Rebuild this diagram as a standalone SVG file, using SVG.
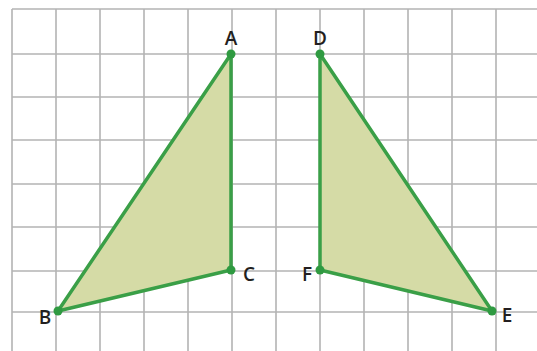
<svg xmlns="http://www.w3.org/2000/svg" width="537" height="351" viewBox="0 0 537 351">
<style>
.grid line{stroke:#b3b3b3;stroke-width:1.6}
.tri{fill:#d5dba6;stroke:#3a9f47;stroke-width:3.5;stroke-linejoin:round}
.pt{fill:#2f9a41}
.lbl{font-family:"Open Sans","Liberation Sans",sans-serif;font-size:19px;font-weight:600;fill:#231f20;text-anchor:middle}
</style>
<rect width="537" height="351" fill="#ffffff"/>
<g class="grid" id="grid">
<line x1="12" y1="9" x2="12" y2="351"/>
<line x1="56" y1="9" x2="56" y2="351"/>
<line x1="100" y1="9" x2="100" y2="351"/>
<line x1="144" y1="9" x2="144" y2="351"/>
<line x1="188" y1="9" x2="188" y2="351"/>
<line x1="232" y1="9" x2="232" y2="351"/>
<line x1="276" y1="9" x2="276" y2="351"/>
<line x1="320" y1="9" x2="320" y2="351"/>
<line x1="364" y1="9" x2="364" y2="351"/>
<line x1="408" y1="9" x2="408" y2="351"/>
<line x1="452" y1="9" x2="452" y2="351"/>
<line x1="496" y1="9" x2="496" y2="351"/>
<line x1="12" y1="9" x2="537" y2="9"/>
<line x1="12" y1="54" x2="537" y2="54"/>
<line x1="12" y1="97" x2="537" y2="97"/>
<line x1="12" y1="140" x2="537" y2="140"/>
<line x1="12" y1="184" x2="537" y2="184"/>
<line x1="12" y1="227" x2="537" y2="227"/>
<line x1="12" y1="271" x2="537" y2="271"/>
<line x1="12" y1="312" x2="537" y2="312"/>
</g>
<g id="triangle-ABC">
<polygon class="tri" points="231,54 231,270 58,311"/>
<circle class="pt" cx="231" cy="54" r="4.5"/>
<circle class="pt" cx="231" cy="270" r="4.5"/>
<circle class="pt" cx="58" cy="311" r="4.5"/>
<text class="lbl" x="231" y="45">A</text>
<text class="lbl" x="249" y="281">C</text>
<text class="lbl" x="45" y="324">B</text>
</g>
<g id="triangle-DEF">
<polygon class="tri" points="320,54 320,270 492,311"/>
<circle class="pt" cx="320" cy="54" r="4.5"/>
<circle class="pt" cx="320" cy="270" r="4.5"/>
<circle class="pt" cx="492" cy="311" r="4.5"/>
<text class="lbl" x="320" y="45">D</text>
<text class="lbl" x="307" y="281">F</text>
<text class="lbl" x="507" y="322">E</text>
</g>
</svg>
